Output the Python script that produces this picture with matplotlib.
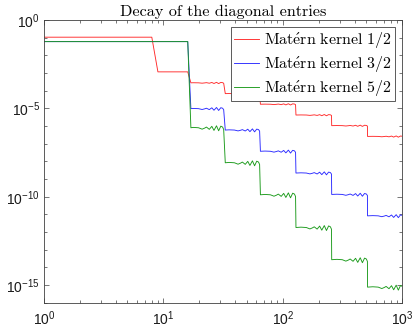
import numpy as np
import matplotlib
matplotlib.use('Agg')
import matplotlib.pyplot as plt
from matplotlib.ticker import FixedLocator, FixedFormatter

plt.rcParams['mathtext.fontset'] = 'custom'
plt.rcParams['mathtext.rm'] = 'Liberation Sans'
plt.rcParams['mathtext.it'] = 'Liberation Sans:italic'

# step segments of the diagonal index (1..1000)
seg_start = [1, 9, 17, 33, 65, 129, 257, 513]
seg_end = [8, 16, 32, 64, 128, 256, 512, 1024]

# log10 level of each step
red_levels = [-0.98, -2.94, -3.56, -4.17, -4.77, -5.38, -5.98, -6.59]
blue_levels = [-1.23, -1.23, -5.02, -6.23, -7.43, -8.66, -9.87, -11.08]
green_levels = [-1.23, -1.23, -6.10, -8.08, -9.89, -11.74, -13.56, -15.11]

# ripple inside one doubling step (position in log2, offset in decades for the 5/2 curve)
ripple_pos = [0.0, 0.15, 0.3, 0.4, 0.47, 0.52, 0.6, 0.67, 0.73, 0.8, 0.86, 0.92, 0.97, 1.0]
ripple_off = [0.0, 0.02, 0.0, -0.08, -0.02, 0.04, -0.09, 0.08, -0.15, 0.11, -0.17, 0.09, 0.04, -0.1]
ripple_amp = {'red': 0.25, 'blue': 0.6, 'green': 1.0}

labels = [r'$\mathrm{Mat\acute{e}rn\ kernel\ 1/2}$',
          r'$\mathrm{Mat\acute{e}rn\ kernel\ 3/2}$',
          r'$\mathrm{Mat\acute{e}rn\ kernel\ 5/2}$']


def build(levels, amp):
    xs, ys = [], []
    for i in range(len(seg_start)):
        if i < 2:
            xs += [seg_start[i], seg_end[i]]
            ys += [levels[i], levels[i]]
            continue
        lo = seg_start[i] - 1
        for p, o in zip(ripple_pos, ripple_off):
            x = lo * 2 ** p
            if p == 0.0:
                x = seg_start[i]
            xs.append(x)
            ys.append(levels[i] + amp * o)
    return np.array(xs), 10.0 ** np.array(ys)


fig = plt.figure(figsize=(4.15, 3.31), dpi=100)
ax = fig.add_axes([0.106, 0.085, 0.863, 0.855])

for lev, col, key, lab in [(red_levels, '#ff2a2a', 'red', labels[0]),
                           (blue_levels, '#2a2aff', 'blue', labels[1]),
                           (green_levels, '#1a9a1a', 'green', labels[2])]:
    x, y = build(lev, ripple_amp[key])
    ax.plot(x, y, color=col, lw=0.65, label=lab)

ax.set_xscale('log')
ax.set_yscale('log')
ax.set_xlim(1, 1000)
ax.set_ylim(1e-16, 1)

ax.yaxis.set_major_locator(FixedLocator([1e0, 1e-5, 1e-10, 1e-15]))
ax.yaxis.set_major_formatter(FixedFormatter([r'$10^{0}$', r'$10^{-5}$', r'$10^{-10}$', r'$10^{-15}$']))
ax.yaxis.set_minor_locator(FixedLocator([10.0 ** k for k in range(-16, 1)]))
ax.xaxis.set_major_locator(FixedLocator([1, 10, 100, 1000]))
ax.xaxis.set_major_formatter(FixedFormatter([r'$10^{0}$', r'$10^{1}$', r'$10^{2}$', r'$10^{3}$']))
ax.xaxis.set_minor_locator(FixedLocator([m * 10 ** k for k in range(3) for m in range(2, 10)]))
ax.yaxis.set_minor_formatter(FixedFormatter([]))
ax.xaxis.set_minor_formatter(FixedFormatter([]))

gray = '#404040'
ax.tick_params(which='both', direction='in', top=True, right=True, colors=gray, width=0.5)
ax.tick_params(which='major', length=3.5, labelsize=10, labelcolor='#1a1a1a')
ax.tick_params(which='minor', length=2.0)
ax.tick_params(axis='x', pad=5)
ax.tick_params(axis='y', pad=3)
for s in ax.spines.values():
    s.set_color(gray)
    s.set_linewidth(0.6)

ax.set_title('Decay of the diagonal entries', family='cmr10', fontsize=11.7, pad=3)

leg = ax.legend(loc='upper right', fancybox=False, framealpha=1, edgecolor=gray,
                handlelength=1.6, handletextpad=0.3, borderaxespad=0.45,
                labelspacing=0.25, borderpad=0.2, prop={'size': 11.5})
leg.get_frame().set_linewidth(0.6)
for t in leg.get_texts():
    t.set_math_fontfamily('cm')

fig.savefig('out.png', dpi=100)
